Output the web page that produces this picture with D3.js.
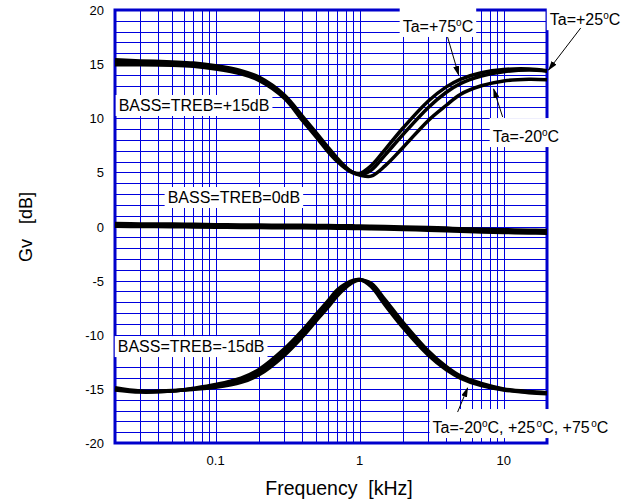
<!DOCTYPE html>
<html>
<head>
<meta charset="utf-8">
<script src="https://cdnjs.cloudflare.com/ajax/libs/d3/7.8.5/d3.min.js"></script>
<style>
  body { margin: 0; background: #fff; }
  svg { display: block; font-family: "Liberation Sans", Arial, sans-serif; }
</style>
</head>
<body>
<script>
// frequency points (kHz) shared by every curve
var freqKHz = [0.02, 0.03, 0.05, 0.07, 0.1, 0.15, 0.2, 0.3, 0.4, 0.5, 0.6, 0.7, 0.8, 0.9,
               1, 1.2, 1.5, 2, 3, 4, 5, 7, 10, 15, 20];

// BASS=TREB=+15dB
var plus15_m20 = [14.95, 14.95, 14.9, 14.8, 14.55, 14.1, 13.5, 11.85, 9.8, 8.25, 6.95, 6.0, 5.35, 4.95,
                  4.75, 4.65, 5.6, 7.3, 9.8, 11.2, 12.2, 13.0, 13.45, 13.6, 13.55];
var plus15_p25 = [15.2, 15.15, 15.1, 15.0, 14.7, 14.25, 13.65, 12.0, 10.0, 8.45, 7.15, 6.15, 5.4, 5.0,
                  4.8, 5.2, 6.6, 8.5, 11.0, 12.4, 13.2, 13.9, 14.3, 14.45, 14.35];
var plus15_p75 = [15.4, 15.3, 15.2, 15.1, 14.85, 14.4, 13.8, 12.15, 10.2, 8.65, 7.35, 6.3, 5.5, 5.0,
                  4.9, 5.6, 7.1, 9.1, 11.6, 12.9, 13.6, 14.2, 14.5, 14.55, 14.4];

// BASS=TREB=0dB
var zero_m20 = [0.03, 0.0, -0.02, -0.04, -0.07, -0.09, -0.1, -0.12, -0.12, -0.14, -0.15, -0.16, -0.17, -0.18,
                -0.19, -0.21, -0.24, -0.28, -0.34, -0.4, -0.45, -0.5, -0.55, -0.6, -0.62];
var zero_p25 = [0.15, 0.12, 0.1, 0.08, 0.05, 0.03, 0.02, 0.0, 0.0, -0.02, -0.03, -0.04, -0.05, -0.05,
                -0.06, -0.08, -0.1, -0.14, -0.2, -0.25, -0.3, -0.35, -0.4, -0.45, -0.47];
var zero_p75 = [0.27, 0.24, 0.22, 0.2, 0.17, 0.15, 0.13, 0.12, 0.11, 0.1, 0.09, 0.08, 0.07, 0.06,
                0.05, 0.03, 0.0, -0.04, -0.1, -0.15, -0.2, -0.25, -0.3, -0.34, -0.36];

// BASS=TREB=-15dB
var minus15_m20 = [-14.9, -15.2, -15.15, -15.05, -14.85, -14.4, -13.7, -11.9, -10.2, -8.7, -7.5, -6.4, -5.65, -5.15,
                   -4.95, -5.25, -6.75, -8.85, -11.5, -12.95, -13.8, -14.5, -15.0, -15.25, -15.35];
var minus15_p25 = [-15.0, -15.25, -15.2, -15.0, -14.7, -14.2, -13.45, -11.6, -9.9, -8.4, -7.2, -6.1, -5.45, -5.05,
                   -4.9, -5.4, -7.0, -9.1, -11.7, -13.1, -13.9, -14.6, -15.05, -15.3, -15.4];
var minus15_p75 = [-15.1, -15.3, -15.2, -14.95, -14.6, -14.0, -13.2, -11.3, -9.6, -8.1, -6.9, -5.85, -5.3, -4.98,
                   -4.9, -5.55, -7.25, -9.35, -11.9, -13.25, -14.0, -14.7, -15.1, -15.35, -15.45];

var seriesList = [plus15_m20, plus15_p25, plus15_p75,
                  zero_m20, zero_p25, zero_p75,
                  minus15_m20, minus15_p25, minus15_p75];

// tick labels
var yTicks = [20, 15, 10, 5, 0, -5, -10, -15, -20];
var xTickLabels = [0.1, 1, 10];

// annotations, placed in data units (kHz, dB)
var notes = [
  {text: 'BASS=TREB=+15dB', f: 0.0212, v: 10.67},
  {text: 'BASS=TREB=0dB', f: 0.0464, v: 2.17},
  {text: 'BASS=TREB=-15dB', f: 0.0209, v: -11.6},
  {text: 'Ta=+75°C', f: 1.99, v: 17.97},
  {text: 'Ta=+25°C', f: 20.9, v: 18.6},
  {text: 'Ta=-20°C', f: 8.39, v: 7.8},
  {text: 'Ta=-20°C, +25°C, +75°C', f: 3.21, v: -19.08}
];
var arrows = [
  {f0: 4.08, v0: 17.5, f1: 4.87, v1: 14.0},
  {f0: 34.3, v0: 18.34, f1: 20.5, v1: 14.46},
  {f0: 9.84, v0: 10.12, f1: 8.52, v1: 12.7},
  {f0: 4.79, v0: -17.14, f1: 5.62, v1: -14.92}
];

// set the dimensions and margins of the graph
var margin = {top: 10, right: 93, bottom: 61, left: 115},
    width = 640 - margin.left - margin.right,
    height = 504 - margin.top - margin.bottom;

var x = d3.scaleLog().domain([0.02, 20]).range([0, width]);
var y = d3.scaleLinear().domain([-20, 20]).range([height, 0]);

var blue = '#0000dd';

var root = d3.select('body')
    .append('svg')
    .attr('width', 640)
    .attr('height', 504);

root.append('rect').attr('width', 640).attr('height', 504).attr('fill', '#fff');

var defs = root.append('defs');
defs.append('marker')
    .attr('id', 'arrowhead')
    .attr('markerUnits', 'userSpaceOnUse')
    .attr('markerWidth', 10)
    .attr('markerHeight', 6)
    .attr('refX', 9)
    .attr('refY', 3)
    .attr('orient', 'auto')
  .append('path')
    .attr('d', 'M0,0 L10,3 L0,6 Z')
    .attr('fill', '#000');

var svg = root.append('g')
    .attr('transform', 'translate(' + margin.left + ',' + margin.top + ')');

// grid lines
svg.append('g')
  .selectAll('line')
  .data(x.ticks())
  .enter()
  .append('line')
    .attr('x1', function(d) { return Math.round(x(d)) + 0.5; })
    .attr('x2', function(d) { return Math.round(x(d)) + 0.5; })
    .attr('y1', 0)
    .attr('y2', height)
    .attr('stroke', blue)
    .attr('stroke-width', 1);

svg.append('g')
  .selectAll('line')
  .data(y.ticks(40))
  .enter()
  .append('line')
    .attr('x1', 0)
    .attr('x2', width)
    .attr('y1', function(d) { return Math.round(y(d)) + 0.5; })
    .attr('y2', function(d) { return Math.round(y(d)) + 0.5; })
    .attr('stroke', blue)
    .attr('stroke-width', 1);

// frame
svg.append('rect')
    .attr('x', 0)
    .attr('y', 0)
    .attr('width', width)
    .attr('height', height)
    .attr('fill', 'none')
    .attr('stroke', '#0000cc')
    .attr('stroke-width', 3);

// curves
var line = d3.line()
    .x(function(d, i) { return x(freqKHz[i]); })
    .y(function(d) { return y(d); })
    .curve(d3.curveCatmullRom.alpha(0.5));

svg.selectAll('.curve')
    .data(seriesList)
    .enter()
    .append('path')
    .attr('class', 'curve')
    .attr('d', line)
    .attr('fill', 'none')
    .attr('stroke', '#000')
    .attr('stroke-width', 3.5)
    .attr('stroke-linejoin', 'round');

// tick labels
svg.selectAll('.ylab')
    .data(yTicks)
    .enter()
    .append('text')
    .attr('class', 'ylab')
    .attr('x', -11)
    .attr('y', function(d) { return y(d) + 5; })
    .attr('text-anchor', 'end')
    .attr('font-size', '13px')
    .text(function(d) { return d; });

svg.selectAll('.xlab')
    .data(xTickLabels)
    .enter()
    .append('text')
    .attr('class', 'xlab')
    .attr('x', function(d) { return x(d); })
    .attr('y', height + 22)
    .attr('text-anchor', 'middle')
    .attr('font-size', '13px')
    .text(function(d) { return d; });

// axis titles
root.append('text')
    .attr('transform', 'translate(32,227) rotate(-90)')
    .attr('text-anchor', 'middle')
    .attr('font-size', '18px')
    .attr('xml:space', 'preserve')
    .text('Gv   [dB]');

root.append('text')
    .attr('x', 339)
    .attr('y', 495)
    .attr('text-anchor', 'middle')
    .attr('font-size', '19.5px')
    .attr('xml:space', 'preserve')
    .text('Frequency  [kHz]');

// annotations: white boxes with text, "°" drawn as a raised small o
notes.forEach(function(n) {
    var g = svg.append('g');
    var px = x(n.f), py = y(n.v);
    var t = g.append('text')
        .attr('x', px)
        .attr('y', py)
        .attr('font-size', '16px');
    var parts = n.text.split('°');
    parts.forEach(function(p, i) {
        t.append('tspan')
            .attr('dy', i > 0 ? 6 : 0)
            .text(p);
        if (i < parts.length - 1) {
            t.append('tspan')
                .attr('dy', -6)
                .attr('dx', parts.length > 2 && i > 0 ? 1.5 : 0)
                .attr('font-size', '10px')
                .text('o');
        }
    });
    var bb = t.node().getBBox();
    var top = parts.length > 1 ? 24 : 16;
    g.insert('rect', 'text')
        .attr('x', bb.x - 3)
        .attr('y', py - top)
        .attr('width', bb.width + 6)
        .attr('height', top + 5)
        .attr('fill', '#fff');
});

// arrows
svg.selectAll('.arrow')
    .data(arrows)
    .enter()
    .append('line')
    .attr('class', 'arrow')
    .attr('x1', function(d) { return x(d.f0); })
    .attr('y1', function(d) { return y(d.v0); })
    .attr('x2', function(d) { return x(d.f1); })
    .attr('y2', function(d) { return y(d.v1); })
    .attr('stroke', '#000')
    .attr('stroke-width', 1)
    .attr('marker-end', 'url(#arrowhead)');
</script>
</body>
</html>
